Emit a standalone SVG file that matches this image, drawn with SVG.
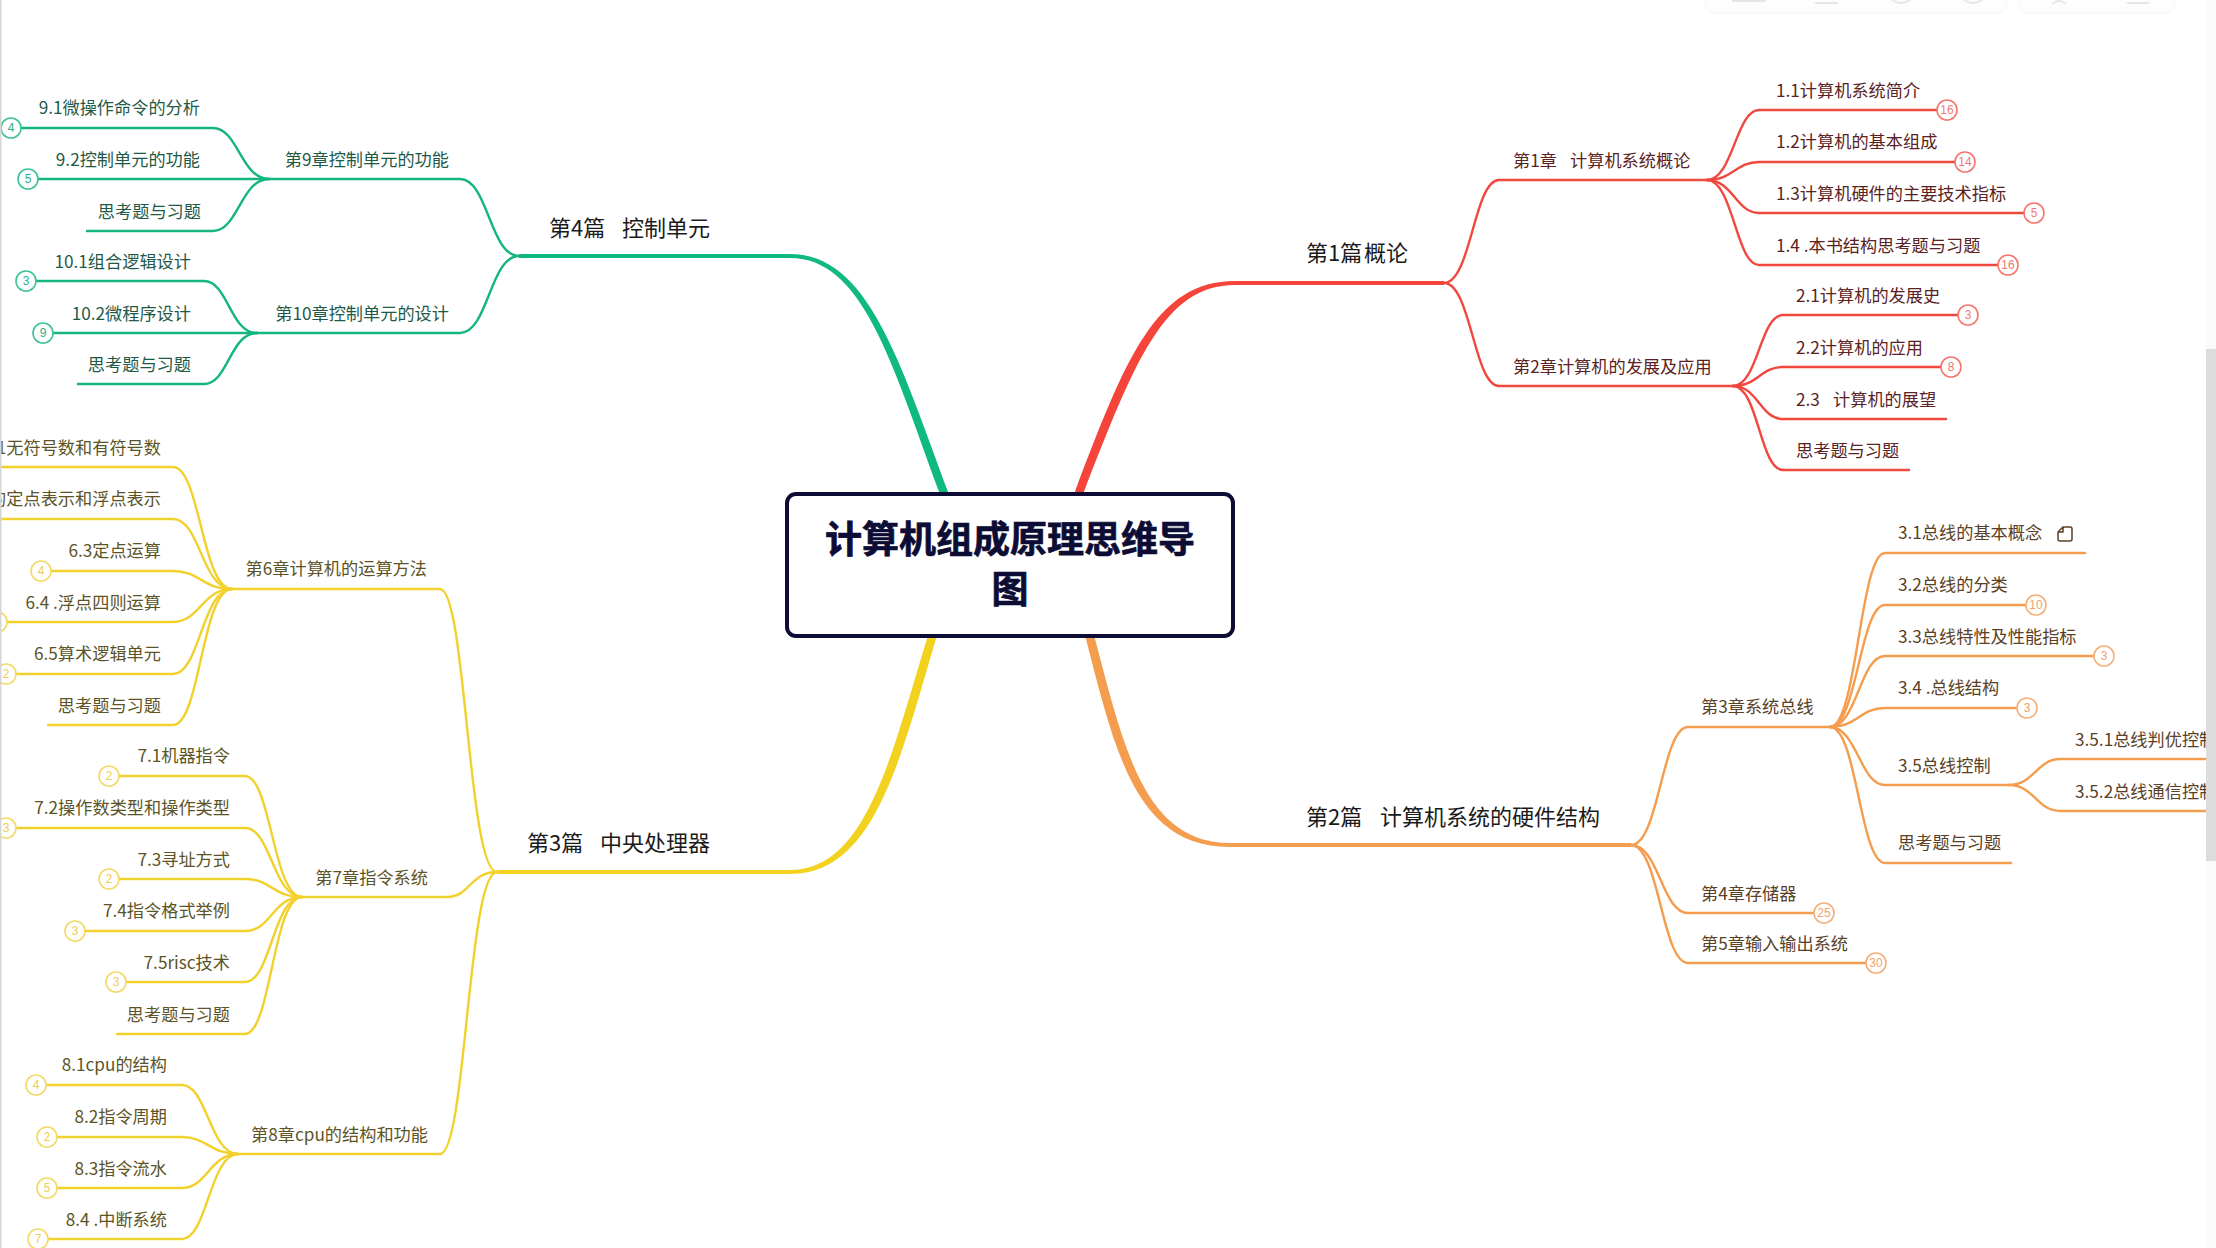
<svg xmlns="http://www.w3.org/2000/svg" width="2216" height="1248" viewBox="0 0 2216 1248">
<style>
text{font-family:"Noto Sans CJK SC","Noto Sans",sans-serif;white-space:pre}
.t{font-size:17.200px}
.h{font-size:22px;fill:#1a1a1a}
.r{fill:#5a2222}.o{fill:#5a4126}.g{fill:#1f5a48}.y{fill:#5c5426}
.e{text-anchor:end}
.b circle{fill:#fff;stroke-width:1.6}
.b text{font-family:"Liberation Sans",sans-serif;font-size:12px;text-anchor:middle}
.br circle{stroke:#f5766d}.br text{fill:#ee7a73}
.bo circle{stroke:#f5b07a}.bo text{fill:#f0a06e}
.bg circle{stroke:#3dc299}.bg text{fill:#30b089}
.by circle{stroke:#f2d968}.by text{fill:#eecd55}
#connectors path{fill:none;stroke-width:2.4;stroke-linecap:round}
#connectors path.m{stroke:none}
#cr path{stroke:#f0483e}#cr path.m{fill:#f5443a}
#co path{stroke:#f59d4e}#co path.m{fill:#f59d4e}
#cg path{stroke:#14b581}#cg path.m{fill:#0fb97f}
#cy path{stroke:#f2d12c}#cy path.m{fill:#f2d21f}
</style>
<rect width="2216" height="1248" fill="#fff"/>
<g id="toolbar" fill="#fdfdfd" stroke="#f7f7f7">
<rect x="1705" y="-20" width="302" height="33" rx="8"/>
<rect x="2019" y="-20" width="156" height="33" rx="8"/>
<path d="M1732,1H1766M1815,3H1838M1892,0Q1901,6 1910,0M1964,0Q1973,6 1982,0M2052,4L2059,0L2066,4M2127,3H2149" fill="none" stroke="#e6e6e6" stroke-width="2"/>
</g>
<g id="connectors">
<g id="cr">
<path class="m" d="M1074.500,493C1125.500,358 1156,281 1235,281L1444,281V285L1235,285C1164,285 1134.500,362 1083.500,493Z"/>
<path d="M1444,283C1471,283 1474,180 1499,180L1707,180"/>
<path d="M1444,283C1471,283 1474,386 1499,386L1733,386"/>
<path d="M1707,180C1733,180 1736,110 1759,110L1937,110"/>
<path d="M1707,180C1733,180 1736,162 1759,162L1955,162"/>
<path d="M1707,180C1733,180 1736,213 1759,213L2024,213"/>
<path d="M1707,180C1733,180 1736,265 1759,265L1998,265"/>
<path d="M1733,386C1758,386 1760,315 1783,315L1958,315"/>
<path d="M1733,386C1758,386 1760,367 1783,367L1941,367"/>
<path d="M1733,386C1758,386 1760,419 1783,419L1946,419"/>
<path d="M1733,386C1758,386 1760,470 1783,470L1909,470"/>
</g>
<g id="co">
<path class="m" d="M1085.500,637C1115,752 1136,847 1230,847L1631,847V843L1230,843C1144,843 1124,748 1094.500,637Z"/>
<path d="M1631,845C1659,845 1662,727 1688,727L1830,727"/>
<path d="M1631,845C1659,845 1662,913 1688,913L1814,913"/>
<path d="M1631,845C1659,845 1662,963 1688,963L1866,963"/>
<path d="M1830,727C1857,727 1860,553 1885,553L2085,553"/>
<path d="M1830,727C1857,727 1860,605 1885,605L2026,605"/>
<path d="M1830,727C1857,727 1860,656 1885,656L2094,656"/>
<path d="M1830,727C1857,727 1860,708 1885,708L2017,708"/>
<path d="M1830,727C1857,727 1860,785 1885,785L2009,785"/>
<path d="M1830,727C1857,727 1860,863 1885,863L2011,863"/>
<path d="M2009,785C2034,785 2037,759 2060,759L2206,759"/>
<path d="M2009,785C2034,785 2037,811 2060,811L2206,811"/>
</g>
<g id="cg">
<path class="m" d="M948.500,493C899.500,361 868,254 790,254L519,254V258L790,258C862,258 890.500,359 939.500,493Z"/>
<path d="M519,256C490,256 488,179 460,179L269,179"/>
<path d="M519,256C490,256 488,333 460,333L257,333"/>
<path d="M269,179C241,179 238,128 213,128L21,128"/>
<path d="M269,179L38,179"/>
<path d="M269,179C241,179 238,231 213,231L87,231"/>
<path d="M257,333C230,333 228,281 204,281L36,281"/>
<path d="M257,333L53,333"/>
<path d="M257,333C230,333 228,384 204,384L78,384"/>
</g>
<g id="cy">
<path class="m" d="M936.500,637C899.500,762 874,874 790,874L497,874V870L790,870C866,870 890.500,758 927.500,637Z"/>
<path d="M497,872C468,872 466,589 440,589L232,589"/>
<path d="M497,872C470,872 470,897 447,897L302,897"/>
<path d="M497,872C468,872 466,1154 440,1154L238,1154"/>
<path d="M232,589C202,589 200,467 173,467L0,467"/>
<path d="M232,589C202,589 200,519 173,519L0,519"/>
<path d="M232,589C202,589 200,571 173,571L51,571"/>
<path d="M232,589C202,589 200,622 173,622L7,622"/>
<path d="M232,589C202,589 200,674 173,674L16,674"/>
<path d="M232,589C202,589 200,725 173,725L48,725"/>
<path d="M302,897C273,897 271,776 245,776L119,776"/>
<path d="M302,897C273,897 271,828 245,828L16,828"/>
<path d="M302,897C273,897 271,879 245,879L119,879"/>
<path d="M302,897C273,897 271,931 245,931L85,931"/>
<path d="M302,897C273,897 271,982 245,982L126,982"/>
<path d="M302,897C273,897 271,1034 245,1034L117,1034"/>
<path d="M238,1154C210,1154 207,1085 182,1085L46,1085"/>
<path d="M238,1154C210,1154 207,1137 182,1137L57,1137"/>
<path d="M238,1154C210,1154 207,1188 182,1188L57,1188"/>
<path d="M238,1154C210,1154 207,1239 182,1239L48,1239"/>
</g>
</g>
<g id="root">
<rect x="787" y="494" width="446" height="142" rx="9" fill="#fff" stroke="#0c0c35" stroke-width="4"/>
<text x="1010" y="553" text-anchor="middle" font-size="37" font-weight="700" fill="#0c0c35" stroke="#0c0c35" stroke-width="0.7">计算机组成原理思维导</text>
<text x="1010" y="603" text-anchor="middle" font-size="37" font-weight="700" fill="#0c0c35" stroke="#0c0c35" stroke-width="0.7">图</text>
</g>
<g id="part1"><text class="h" x="1306" y="261">第1篇<tspan x="1364">概论</tspan></text></g>
<g id="ch1"><text class="t r" x="1513" y="167">第1章<tspan x="1570">计算机系统概论</tspan></text></g>
<g id="n1-1"><text class="t r" x="1776" y="97">1.1计算机系统简介</text><g class="b br"><circle cx="1947" cy="110" r="10"/><text x="1947" y="114">16</text></g></g>
<g id="n1-2"><text class="t r" x="1776" y="148">1.2计算机的基本组成</text><g class="b br"><circle cx="1965" cy="162" r="10"/><text x="1965" y="166">14</text></g></g>
<g id="n1-3"><text class="t r" x="1776" y="200">1.3计算机硬件的主要技术指标</text><g class="b br"><circle cx="2034" cy="213" r="10"/><text x="2034" y="217">5</text></g></g>
<g id="n1-4"><text class="t r" x="1776" y="252">1.4 .本书结构思考题与习题</text><g class="b br"><circle cx="2008" cy="265" r="10"/><text x="2008" y="269">16</text></g></g>
<g id="ch2"><text class="t r" x="1513" y="373">第2章计算机的发展及应用</text></g>
<g id="n2-1"><text class="t r" x="1796" y="302">2.1计算机的发展史</text><g class="b br"><circle cx="1968" cy="315" r="10"/><text x="1968" y="319">3</text></g></g>
<g id="n2-2"><text class="t r" x="1796" y="354">2.2计算机的应用</text><g class="b br"><circle cx="1951" cy="367" r="10"/><text x="1951" y="371">8</text></g></g>
<g id="n2-3"><text class="t r" x="1796" y="406">2.3<tspan x="1833">计算机的展望</tspan></text></g>
<g id="n2-4"><text class="t r" x="1796" y="457">思考题与习题</text></g>

<g id="part2"><text class="h" x="1306" y="825">第2篇<tspan x="1380">计算机系统的硬件结构</tspan></text></g>
<g id="ch3"><text class="t o" x="1701" y="713">第3章系统总线</text></g>
<g id="n3-1"><text class="t o" x="1898" y="539">3.1总线的基本概念</text><path d="M2063,527L2070,527Q2072,527 2072,529L2072,539Q2072,541 2070,541L2060,541Q2058,541 2058,539L2058,532ZM2063,527V532H2058" fill="none" stroke="#5a4126" stroke-width="1.5"/></g>
<g id="n3-2"><text class="t o" x="1898" y="591">3.2总线的分类</text><g class="b bo"><circle cx="2036" cy="605" r="10"/><text x="2036" y="609">10</text></g></g>
<g id="n3-3"><text class="t o" x="1898" y="643">3.3总线特性及性能指标</text><g class="b bo"><circle cx="2104" cy="656" r="10"/><text x="2104" y="660">3</text></g></g>
<g id="n3-4"><text class="t o" x="1898" y="694">3.4 .总线结构</text><g class="b bo"><circle cx="2027" cy="708" r="10"/><text x="2027" y="712">3</text></g></g>
<g id="n3-5"><text class="t o" x="1898" y="772">3.5总线控制</text></g>
<g id="n3-5-1"><text class="t o" x="2075" y="746">3.5.1总线判优控制</text></g>
<g id="n3-5-2"><text class="t o" x="2075" y="798">3.5.2总线通信控制</text></g>
<g id="n3-6"><text class="t o" x="1898" y="849">思考题与习题</text></g>
<g id="ch4"><text class="t o" x="1701" y="900">第4章存储器</text><g class="b bo"><circle cx="1824" cy="913" r="10"/><text x="1824" y="917">25</text></g></g>
<g id="ch5"><text class="t o" x="1701" y="950">第5章输入输出系统</text><g class="b bo"><circle cx="1876" cy="963" r="10"/><text x="1876" y="967">30</text></g></g>

<g id="part4"><text class="h" x="549" y="236">第4篇<tspan x="622">控制单元</tspan></text></g>
<g id="ch9"><text class="t g e" x="449" y="166">第9章控制单元的功能</text></g>
<g id="n9-1"><text class="t g e" x="200" y="114">9.1微操作命令的分析</text><g class="b bg"><circle cx="11" cy="128" r="10"/><text x="11" y="132">4</text></g></g>
<g id="n9-2"><text class="t g e" x="200" y="166">9.2控制单元的功能</text><g class="b bg"><circle cx="28" cy="179" r="10"/><text x="28" y="183">5</text></g></g>
<g id="n9-3"><text class="t g e" x="201" y="218">思考题与习题</text></g>
<g id="ch10"><text class="t g e" x="449" y="320">第10章控制单元的设计</text></g>
<g id="n10-1"><text class="t g e" x="191" y="268">10.1组合逻辑设计</text><g class="b bg"><circle cx="26" cy="281" r="10"/><text x="26" y="285">3</text></g></g>
<g id="n10-2"><text class="t g e" x="191" y="320">10.2微程序设计</text><g class="b bg"><circle cx="43" cy="333" r="10"/><text x="43" y="337">9</text></g></g>
<g id="n10-3"><text class="t g e" x="191" y="371">思考题与习题</text></g>

<g id="part3"><text class="h" x="527" y="851">第3篇<tspan x="600">中央处理器</tspan></text></g>
<g id="ch6"><text class="t y e" x="427" y="575">第6章计算机的运算方法</text></g>
<g id="n6-1"><text class="t y e" x="161" y="454">6.1无符号数和有符号数</text></g>
<g id="n6-2"><text class="t y e" x="161" y="505">6.2数的定点表示和浮点表示</text></g>
<g id="n6-3"><text class="t y e" x="161" y="557">6.3定点运算</text><g class="b by"><circle cx="41" cy="571" r="10"/><text x="41" y="575">4</text></g></g>
<g id="n6-4"><text class="t y e" x="161" y="609">6.4 .浮点四则运算</text><g class="b by"><circle cx="-3" cy="622" r="10"/></g></g>
<g id="n6-5"><text class="t y e" x="161" y="660">6.5算术逻辑单元</text><g class="b by"><circle cx="6" cy="674" r="10"/><text x="6" y="678">2</text></g></g>
<g id="n6-6"><text class="t y e" x="161" y="712">思考题与习题</text></g>
<g id="ch7"><text class="t y e" x="428" y="884">第7章指令系统</text></g>
<g id="n7-1"><text class="t y e" x="230" y="762">7.1机器指令</text><g class="b by"><circle cx="109" cy="776" r="10"/><text x="109" y="780">2</text></g></g>
<g id="n7-2"><text class="t y e" x="230" y="814">7.2操作数类型和操作类型</text><g class="b by"><circle cx="6" cy="828" r="10"/><text x="6" y="832">3</text></g></g>
<g id="n7-3"><text class="t y e" x="230" y="866">7.3寻址方式</text><g class="b by"><circle cx="109" cy="879" r="10"/><text x="109" y="883">2</text></g></g>
<g id="n7-4"><text class="t y e" x="230" y="917">7.4指令格式举例</text><g class="b by"><circle cx="75" cy="931" r="10"/><text x="75" y="935">3</text></g></g>
<g id="n7-5"><text class="t y e" x="230" y="969">7.5risc技术</text><g class="b by"><circle cx="116" cy="982" r="10"/><text x="116" y="986">3</text></g></g>
<g id="n7-6"><text class="t y e" x="230" y="1021">思考题与习题</text></g>
<g id="ch8"><text class="t y e" x="428" y="1141">第8章cpu的结构和功能</text></g>
<g id="n8-1"><text class="t y e" x="167" y="1071">8.1cpu的结构</text><g class="b by"><circle cx="36" cy="1085" r="10"/><text x="36" y="1089">4</text></g></g>
<g id="n8-2"><text class="t y e" x="167" y="1123">8.2指令周期</text><g class="b by"><circle cx="47" cy="1137" r="10"/><text x="47" y="1141">2</text></g></g>
<g id="n8-3"><text class="t y e" x="167" y="1175">8.3指令流水</text><g class="b by"><circle cx="47" cy="1188" r="10"/><text x="47" y="1192">5</text></g></g>
<g id="n8-4"><text class="t y e" x="167" y="1226">8.4 .中断系统</text><g class="b by"><circle cx="38" cy="1239" r="10"/><text x="38" y="1243">7</text></g></g>

<g id="chrome">
<rect x="2206" y="0" width="10" height="1248" fill="#fafafa"/>
<rect x="2206" y="349" width="10" height="512" fill="#dcdcdc"/>
<rect x="0" y="0" width="1.500" height="1248" fill="#d6d6d6"/>
</g>
</svg>
